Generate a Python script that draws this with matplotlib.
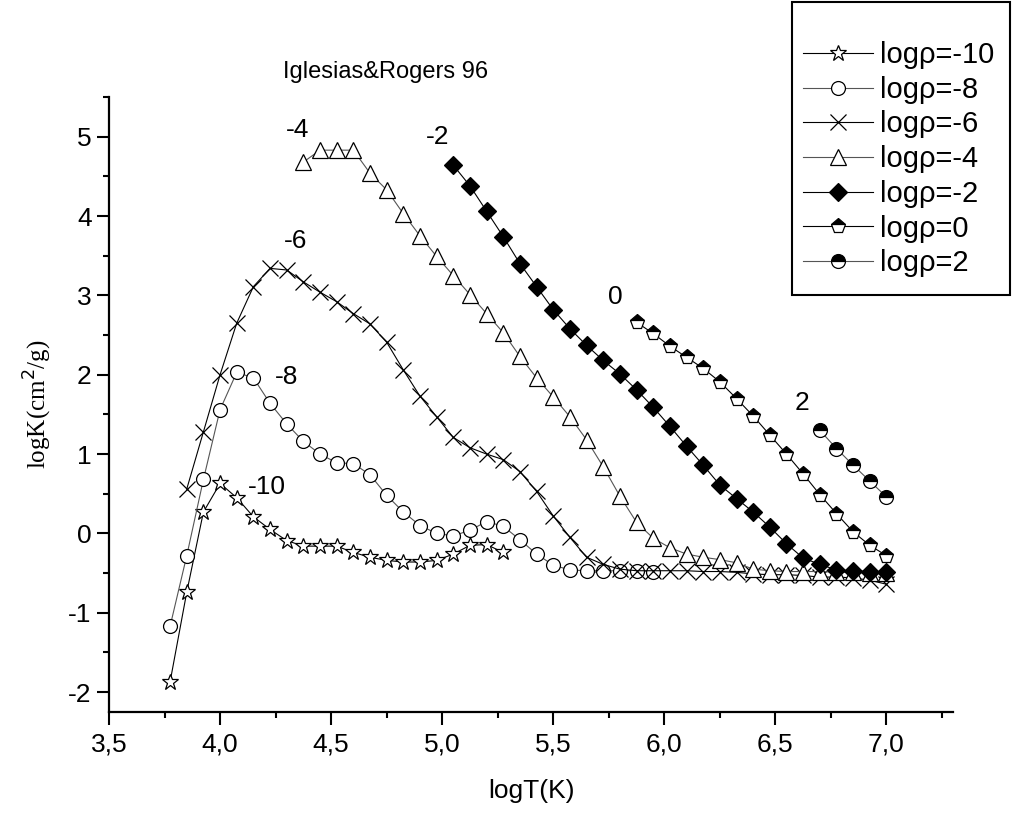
import numpy as np
import matplotlib
matplotlib.use("Agg")
import matplotlib.pyplot as plt
from matplotlib.patches import Rectangle

plt.rcParams['font.family'] = ['Liberation Sans', 'DejaVu Sans']
plt.rcParams['axes.unicode_minus'] = False

# logT grid step used by the table
step = 0.075

# logrho = -10 (stars)
t_m10 = 3.775 + step * np.arange(21)
k_m10 = [-1.87, -0.74, 0.27, 0.63, 0.45, 0.21, 0.05, -0.09, -0.16, -0.16, -0.16,
         -0.24, -0.30, -0.34, -0.36, -0.36, -0.34, -0.26, -0.15, -0.14, -0.24]

# logrho = -8 (open circles)
t_m8 = 3.775 + step * np.arange(30)
k_m8 = [-1.17, -0.28, 0.68, 1.56, 2.03, 1.96, 1.64, 1.38, 1.16, 1.00,
        0.89, 0.88, 0.74, 0.48, 0.27, 0.10, 0.00, -0.03, 0.04, 0.15,
        0.09, -0.08, -0.26, -0.40, -0.46, -0.47, -0.47, -0.47, -0.47, -0.48]

# logrho = -6 (crosses)
t_m6 = 3.85 + step * np.arange(43)
k_m6 = [0.56, 1.28, 2.00, 2.65, 3.11, 3.34, 3.32, 3.17, 3.04, 2.92,
        2.77, 2.64, 2.41, 2.06, 1.73, 1.47, 1.21, 1.08, 1.00, 0.93,
        0.78, 0.53, 0.22, -0.05, -0.30, -0.39, -0.45, -0.47, -0.47, -0.47,
        -0.47, -0.48, -0.48, -0.49, -0.51, -0.52, -0.52, -0.53, -0.55, -0.55,
        -0.56, -0.59, -0.64]

# logrho = -4 (triangles)
t_m4 = 4.375 + step * np.arange(36)
k_m4 = [4.68, 4.83, 4.83, 4.83, 4.54, 4.33, 4.03, 3.75, 3.49, 3.25,
        3.01, 2.77, 2.53, 2.23, 1.96, 1.72, 1.47, 1.18, 0.84, 0.47,
        0.14, -0.06, -0.18, -0.26, -0.30, -0.33, -0.37, -0.45, -0.47, -0.48,
        -0.48, -0.48, -0.49, -0.49, -0.50, -0.50]

# logrho = -2 (filled diamonds)
t_m2 = 5.05 + step * np.arange(27)
k_m2 = [4.64, 4.38, 4.06, 3.74, 3.40, 3.11, 2.82, 2.58, 2.37, 2.18,
        2.01, 1.81, 1.59, 1.35, 1.10, 0.86, 0.61, 0.44, 0.27, 0.08,
        -0.13, -0.31, -0.39, -0.46, -0.47, -0.48, -0.48]

# logrho = 0 (half filled pentagons)
t_0 = 5.875 + step * np.arange(16)
k_0 = [2.66, 2.52, 2.36, 2.22, 2.08, 1.91, 1.70, 1.48, 1.24, 1.00,
       0.75, 0.49, 0.25, 0.02, -0.15, -0.28]

# logrho = 2 (half filled circles)
t_2 = 6.70 + step * np.arange(5)
k_2 = [1.30, 1.07, 0.86, 0.66, 0.46]

curve_labels = ['-10', '-8', '-6', '-4', '-2', '0', '2']
label_x = [4.21, 4.30, 4.34, 4.35, 4.98, 5.78, 6.62]
label_y = [0.58, 1.97, 3.69, 5.09, 5.00, 2.98, 1.64]

fig = plt.figure(figsize=(10.15, 8.15), dpi=100)
ax = fig.add_axes([0.1074, 0.1264, 0.8316, 0.7546])

common = dict(linewidth=0.8, markeredgecolor='black', markeredgewidth=0.9)
ax.plot(t_m10, k_m10, color='black', marker='*', markersize=12,
        markerfacecolor='white', label=r'logρ=-10', **common)
ax.plot(t_m8, k_m8, color='#555555', marker='o', markersize=10,
        markerfacecolor='white', label=r'logρ=-8', **common)
ax.plot(t_m6, k_m6, color='black', marker='x', markersize=11,
        label=r'logρ=-6', **common)
ax.plot(t_m4, k_m4, color='#555555', marker='^', markersize=11,
        markerfacecolor='white', label=r'logρ=-4', **common)
ax.plot(t_m2, k_m2, color='black', marker='D', markersize=9,
        markerfacecolor='black', label=r'logρ=-2', **common)
ax.plot(t_0, k_0, color='black', marker='p', markersize=11, fillstyle='top',
        markerfacecolor='black', markerfacecoloralt='white', label=r'logρ=0', **common)
ax.plot(t_2, k_2, color='#555555', marker='o', markersize=10, fillstyle='top',
        markerfacecolor='black', markerfacecoloralt='white', label=r'logρ=2', **common)

for s, x, y in zip(curve_labels, label_x, label_y):
    ax.text(x, y, s, fontsize=19, ha='center', va='center')

ax.set_xlim(3.5, 7.3)
ax.set_ylim(-2.25, 5.5)
ax.set_xticks(np.arange(3.5, 7.01, 0.5))
ax.set_xticklabels([('%.1f' % v).replace('.', ',') for v in np.arange(3.5, 7.01, 0.5)])
ax.set_xticks(np.arange(3.75, 7.3, 0.5), minor=True)
ax.set_yticks(np.arange(-2, 5.1, 1))
ax.set_yticks(np.arange(-1.5, 5.6, 1), minor=True)

for side in ['top', 'right']:
    ax.spines[side].set_visible(False)
for side in ['left', 'bottom']:
    ax.spines[side].set_linewidth(1.6)
ax.tick_params(which='major', direction='out', length=9, width=1.5, labelsize=19)
ax.tick_params(axis='x', which='major', pad=6)
ax.tick_params(which='minor', direction='out', length=4.5, width=1.5)

ax.set_xlabel('logT(K)', fontsize=19, labelpad=16)
ax.set_ylabel(r'logK(cm$^2$/g)', fontsize=18, family='Liberation Serif', labelpad=10)
ax.text(4.283, 5.81, 'Iglesias&Rogers 96', fontsize=17, ha='left', va='center')

# legend with Origin-style box
leg = fig.legend(loc='upper left', bbox_to_anchor=(803 / 1015, 1 - 41 / 815),
                 borderaxespad=0, borderpad=0, fontsize=21, handlelength=2.4,
                 handletextpad=0.25, labelspacing=0.23, frameon=False)
fig.add_artist(Rectangle((792 / 1015, 1 - 295 / 815), 218 / 1015, 293 / 815,
                         transform=fig.transFigure, fill=False,
                         edgecolor='black', linewidth=1.5))

plt.savefig('out.png', dpi=100)
